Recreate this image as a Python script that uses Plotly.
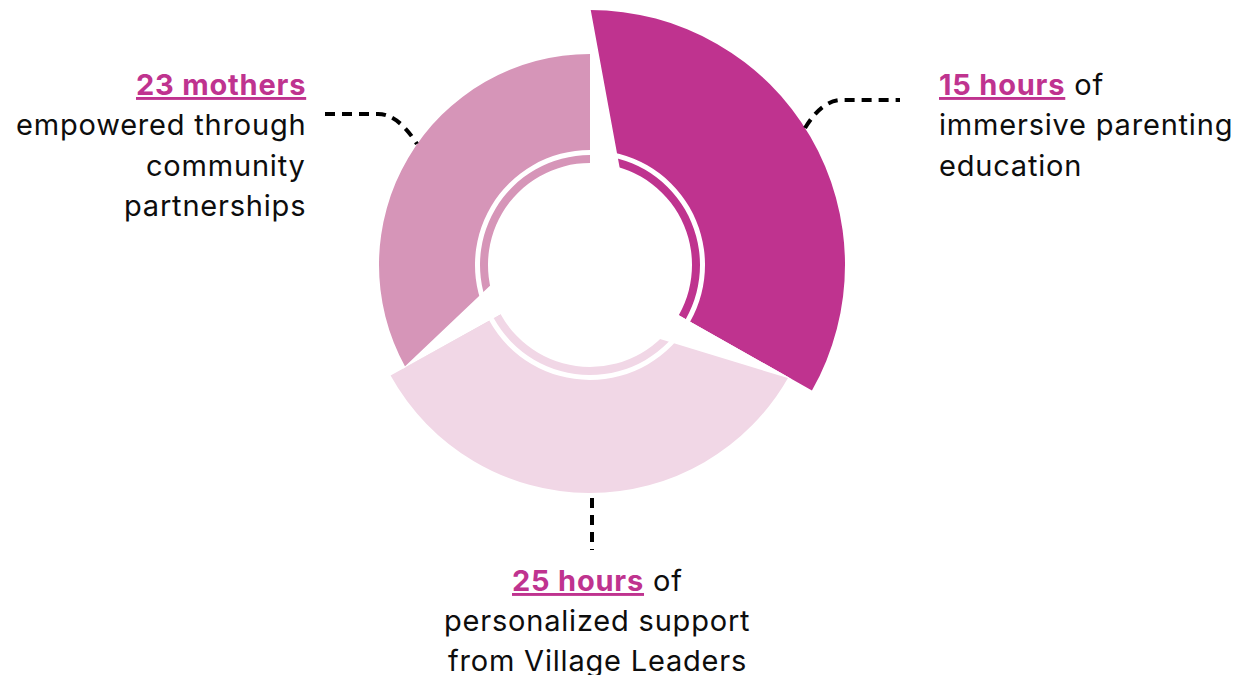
import numpy as np
import plotly.graph_objects as go

W, H = 1244, 675

# ---------------- data ----------------
labels = ["15 hours", "25 hours", "23 mothers"]
values = [15, 25, 23]
suffix = [" of", " of", ""]
desc_lines = [
    ["immersive parenting", "education"],
    ["personalized support", "from Village Leaders"],
    ["empowered through", "community", "partnerships"],
]
# segment boundaries (degrees clockwise from 12 o'clock)
bounds = [0, 119.5, 241, 360]

# ---------------- style ----------------
outer_r = [255, 228, 211]
colors = ["#BF338F", "#F1D7E6", "#D695B8"]
ACCENT = "#BF338F"
TXT = "#0d0d0d"
FONT = "Inter"
FS = 29
LSP = "letter-spacing:0.8px"
CX, CY, R = 590, 265, 262
SEG_BASE, RING_IN, RING_OUT = 115, 102, 110


def px(x):
    return x / W


def py(y):
    return 1 - y / H


centers = [(bounds[i] + bounds[i + 1]) / 2 for i in range(3)]
widths = [bounds[i + 1] - bounds[i] for i in range(3)]

fig = go.Figure()
fig.add_trace(go.Barpolar(
    r=[o - SEG_BASE for o in outer_r], base=SEG_BASE, theta=centers, width=widths,
    marker=dict(color=colors, line=dict(width=0)), hoverinfo="skip", showlegend=False))
fig.add_trace(go.Barpolar(
    r=[RING_OUT - RING_IN] * 3, base=RING_IN, theta=centers, width=widths,
    marker=dict(color=colors, line=dict(width=0)), hoverinfo="skip", showlegend=False))

# white wedge-shaped gaps at the start of every segment
for i in range(3):
    b = bounds[i]
    a_r, a_t = outer_r[i] + 4, b
    m_r, m_t = 111, b + 14.5
    ax_, ay_ = a_r * np.sin(np.radians(a_t)), a_r * np.cos(np.radians(a_t))
    mx_, my_ = m_r * np.sin(np.radians(m_t)), m_r * np.cos(np.radians(m_t))
    k = 0.25
    pxx, pyy = mx_ + (mx_ - ax_) * k, my_ + (my_ - ay_) * k
    p_r = float(np.hypot(pxx, pyy))
    p_t = float(np.degrees(np.arctan2(pxx, pyy)) % 360)
    fig.add_trace(go.Scatterpolar(
        r=[a_r, m_r, p_r, 0, a_r], theta=[a_t, m_t, p_t, b, a_t],
        mode="lines", fill="toself", fillcolor="white", line=dict(width=0, color="white"),
        hoverinfo="skip", showlegend=False))

fig.update_layout(
    width=W, height=H, margin=dict(l=0, r=0, t=0, b=0),
    paper_bgcolor="white", plot_bgcolor="white", template="none",
    polar=dict(
        domain=dict(x=[px(CX - R), px(CX + R)], y=[py(CY + R), py(CY - R)]),
        bgcolor="white",
        radialaxis=dict(range=[0, R], visible=False),
        angularaxis=dict(rotation=90, direction="clockwise", visible=False),
    ),
)


def head(i):
    return (f"<span style='{LSP}'><span style='text-decoration:underline'><b>{labels[i]}</b></span>"
            f"<span style='color:{TXT}'>{suffix[i]}</span></span>")


blocks = [
    # (index, x, xanchor, first line y)
    (0, 937, "left", 85),
    (1, 597, "center", 580),
    (2, 308, "right", 85),
]
LS = 40
for i, x, anchor, y0 in blocks:
    fig.add_annotation(x=px(x), y=py(y0), xref="paper", yref="paper", text=head(i),
                       showarrow=False, xanchor=anchor, yanchor="middle",
                       font=dict(family=FONT, size=FS, color=ACCENT))
    for j, line in enumerate(desc_lines[i]):
        fig.add_annotation(x=px(x), y=py(y0 + LS * (j + 1)), xref="paper", yref="paper",
                           text=f"<span style='{LSP}'>{line}</span>", showarrow=False,
                           xanchor=anchor, yanchor="middle",
                           font=dict(family=FONT, size=FS, color=TXT))

# dashed leader lines
dash_line = dict(color="black", width=4, dash="10px,7px")

fig.add_shape(type="path", xref="paper", yref="paper", line=dash_line,
              path=f"M {px(325)} {py(114)} L {px(378)} {py(114)} Q {px(398)} {py(114)} {px(417)} {py(144)}")
fig.add_shape(type="path", xref="paper", yref="paper", line=dash_line,
              path=f"M {px(805)} {py(128)} Q {px(822)} {py(100)} {px(842)} {py(100)} L {px(900)} {py(100)}")
fig.add_shape(type="line", xref="paper", yref="paper", line=dash_line,
              x0=px(592), x1=px(592), y0=py(498), y1=py(550))

fig.write_html("out.html")
